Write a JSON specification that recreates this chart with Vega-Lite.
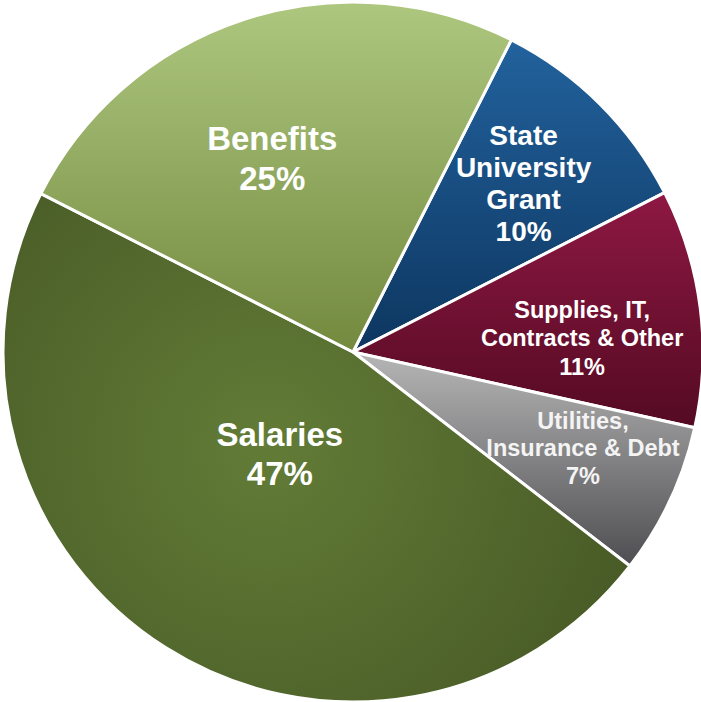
{
  "$schema": "https://vega.github.io/schema/vega-lite/v6.json",
  "autosize": {"type": "fit", "contains": "padding"},
  "width": 701,
  "height": 702,
  "padding": {"left": 5, "top": 2, "right": 0, "bottom": 0},
  "background": "white",
  "view": {"stroke": null},
  "data": {
    "values": [
      {"rank": 1, "category": "State University Grant", "value": 10, "label": "State\nUniversity\nGrant\n10%"},
      {"rank": 2, "category": "Supplies, IT, Contracts & Other", "value": 11, "label": "Supplies, IT,\nContracts & Other\n11%"},
      {"rank": 3, "category": "Utilities, Insurance & Debt", "value": 7, "label": "Utilities,\nInsurance & Debt\n7%"},
      {"rank": 4, "category": "Salaries", "value": 47, "label": "Salaries\n47%"},
      {"rank": 5, "category": "Benefits", "value": 25, "label": "Benefits\n25%"}
    ]
  },
  "encoding": {
    "theta": {"field": "value", "type": "quantitative", "stack": true, "scale": {"domain": [0, 100], "range": [0.4695, 6.7527]}},
    "order": {"field": "rank", "type": "quantitative", "sort": "ascending"}
  },
  "layer": [
    {
      "mark": {"type": "arc", "outerRadius": 350, "stroke": "white", "strokeWidth": 3, "strokeJoin": "miter"},
      "encoding": {
        "fill": {
          "condition": [
            {"test": "datum.category === 'State University Grant'", "value": {"gradient": "linear", "x1": 0, "y1": 0, "x2": 0, "y2": 1, "stops": [{"offset": 0, "color": "#22629d"}, {"offset": 1, "color": "#0d3660"}]}},
            {"test": "datum.category === 'Supplies, IT, Contracts & Other'", "value": {"gradient": "linear", "x1": 0, "y1": 0, "x2": 0, "y2": 1, "stops": [{"offset": 0, "color": "#8e1843"}, {"offset": 1, "color": "#540a22"}]}},
            {"test": "datum.category === 'Utilities, Insurance & Debt'", "value": {"gradient": "linear", "x1": 0, "y1": 0, "x2": 0, "y2": 1, "stops": [{"offset": 0, "color": "#b6b6b6"}, {"offset": 1, "color": "#4e4e52"}]}},
            {"test": "datum.category === 'Salaries'", "value": {"gradient": "radial", "x1": 0.42, "y1": 0.5, "r1": 0, "x2": 0.42, "y2": 0.5, "r2": 0.62, "stops": [{"offset": 0, "color": "#627c37"}, {"offset": 1, "color": "#485a26"}]}}
          ],
          "value": {"gradient": "linear", "x1": 0, "y1": 0, "x2": 0, "y2": 1, "stops": [{"offset": 0, "color": "#aec77f"}, {"offset": 1, "color": "#72893e"}]}
        }
      }
    },
    {
      "mark": {"type": "text", "radius": 236, "dx": 4, "dy": -48, "font": "Liberation Sans", "fontWeight": "bold", "fontSize": 28, "lineHeight": 32, "lineBreak": "\n", "color": "white", "align": "center", "baseline": "middle"},
      "encoding": {"text": {"condition": {"test": "datum.category === 'State University Grant'", "field": "label"}, "value": ""}}
    },
    {
      "mark": {"type": "text", "radius": 231, "dy": -12, "font": "Liberation Sans", "fontWeight": "bold", "fontSize": 23.5, "lineHeight": 28.5, "lineBreak": "\n", "color": "white", "align": "center", "baseline": "middle"},
      "encoding": {"text": {"condition": {"test": "datum.category === 'Supplies, IT, Contracts & Other'", "field": "label"}, "value": ""}}
    },
    {
      "mark": {"type": "text", "radius": 254, "dy": -38, "font": "Liberation Sans", "fontWeight": "bold", "fontSize": 23.5, "lineHeight": 27.5, "lineBreak": "\n", "color": "#f4f4f4", "align": "center", "baseline": "middle"},
      "encoding": {"text": {"condition": {"test": "datum.category === 'Utilities, Insurance & Debt'", "field": "label"}, "value": ""}}
    },
    {
      "mark": {"type": "text", "radius": 122, "dx": -8, "dy": -19.5, "font": "Liberation Sans", "fontWeight": "bold", "fontSize": 33, "lineHeight": 39, "lineBreak": "\n", "color": "white", "align": "center", "baseline": "middle"},
      "encoding": {"text": {"condition": {"test": "datum.category === 'Salaries'", "field": "label"}, "value": ""}}
    },
    {
      "mark": {"type": "text", "radius": 202, "dx": -18, "dy": -20, "font": "Liberation Sans", "fontWeight": "bold", "fontSize": 33, "lineHeight": 40, "lineBreak": "\n", "color": "white", "align": "center", "baseline": "middle"},
      "encoding": {"text": {"condition": {"test": "datum.category === 'Benefits'", "field": "label"}, "value": ""}}
    }
  ]
}
